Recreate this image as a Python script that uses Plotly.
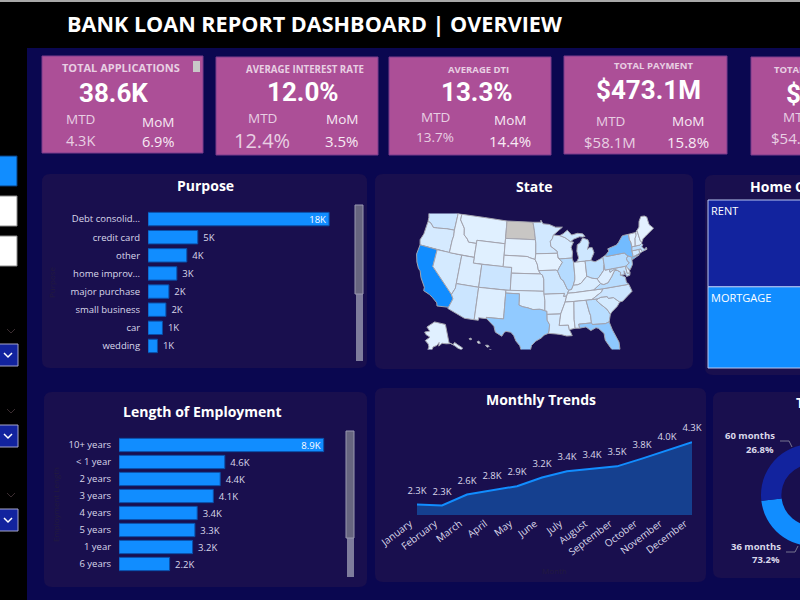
import plotly.graph_objects as go

# page is wider than the window on purpose: the reference is cropped at x=800
W = 1000
H = 600

purpose_names = ["Debt consolid...", "credit card", "other", "home improv...", "major purchase",
                 "small business", "car", "wedding"]
purpose_values = [18.2, 5.0, 3.9, 2.9, 2.1, 1.8, 1.45, 0.95]
purpose_labels = ["18K", "5K", "4K", "3K", "2K", "2K", "1K", "1K"]

emp_names = ["10+ years", "< 1 year", "2 years", "3 years", "4 years", "5 years", "1 year", "6 years"]
emp_values = [8.9, 4.6, 4.4, 4.1, 3.4, 3.3, 3.2, 2.2]

months = ["January", "February", "March", "April", "May", "June", "July", "August",
          "September", "October", "November", "December"]
month_values = [2.29, 2.26, 2.61, 2.75, 2.88, 3.16, 3.36, 3.44, 3.52, 3.77, 4.03, 4.3]

term_names = ["36 months", "60 months"]
term_share = [73.2, 26.8]

home_names = ["RENT", "MORTGAGE", "OWN"]
home_values = [18.4, 17.2, 2.8]

# shading of the map read as a rough count per state (ND has no data in the picture)
state_codes = ["CA", "NY", "FL", "TX", "NJ", "IL", "PA", "VA", "GA", "MA", "OH", "MD", "AZ", "WA", "CO", "NC",
               "CT", "MI", "MO", "MN", "NV", "SC", "WI", "AL", "OR", "LA", "KY", "OK", "KS", "UT", "AR", "RI",
               "NM", "WV", "HI", "NH", "DE", "MT", "WY", "AK", "SD", "VT", "MS", "TN", "IN", "ID", "IA", "NE", "ME"]
state_counts = [6900, 3700, 2800, 2700, 1800, 1500, 1500, 1400, 1400, 1300, 1200, 1000, 800, 800, 800, 800,
                700, 700, 700, 600, 500, 500, 450, 450, 450, 450, 300, 300, 250, 250, 250, 200,
                200, 200, 200, 150, 100, 100, 100, 100, 50, 50, 20, 20, 10, 10, 10, 10, 10]

# the plotly basemap comes from a CDN, so simplified state outlines (lon, lat) are kept here
state_shapes = {
    "WA": [[(-124.7,48.4),(-123.0,48.3),(-122.8,49.0),(-117.03,49.0),(-117.04,46.0),(-119.0,45.93),(-121.2,45.65),(-122.3,45.55),(-122.8,45.9),(-123.4,46.25),(-124.0,46.27),(-124.1,47.0)]],
    "OR": [[(-124.0,46.27),(-123.4,46.25),(-122.8,45.9),(-122.3,45.55),(-121.2,45.65),(-119.0,45.93),(-117.04,46.0),(-116.9,45.0),(-117.03,44.2),(-117.03,42.0),(-124.2,42.0),(-124.55,42.85),(-124.1,44.0)]],
    "CA": [[(-124.2,42.0),(-120.0,42.0),(-120.0,39.0),(-114.63,35.0),(-114.13,34.3),(-114.72,32.72),(-117.12,32.53),(-117.3,33.05),(-118.4,33.75),(-119.2,34.15),(-120.6,34.55),(-120.65,35.15),(-121.9,36.6),(-122.5,37.7),(-123.0,38.0),(-123.75,39.0),(-124.35,40.3)]],
    "NV": [[(-120.0,42.0),(-114.04,42.0),(-114.05,36.2),(-114.63,35.0),(-120.0,39.0)]],
    "ID": [[(-117.03,49.0),(-116.05,49.0),(-116.05,48.0),(-114.7,46.7),(-114.4,45.55),(-113.45,44.95),(-113.0,44.45),(-111.05,44.48),(-111.05,42.0),(-117.03,42.0),(-117.03,44.2),(-116.9,45.0),(-117.04,46.0)]],
    "MT": [[(-116.05,49.0),(-104.05,49.0),(-104.05,45.0),(-111.05,45.0),(-111.05,44.48),(-113.0,44.45),(-113.45,44.95),(-114.4,45.55),(-114.7,46.7),(-116.05,48.0)]],
    "WY": [[(-111.05,45.0),(-104.05,45.0),(-104.05,41.0),(-111.05,41.0)]],
    "UT": [[(-114.04,42.0),(-111.05,42.0),(-111.05,41.0),(-109.05,41.0),(-109.05,37.0),(-114.05,37.0)]],
    "CO": [[(-109.05,41.0),(-102.05,41.0),(-102.05,37.0),(-109.05,37.0)]],
    "AZ": [[(-114.05,37.0),(-109.05,37.0),(-109.05,31.33),(-111.07,31.33),(-114.81,32.5),(-114.72,32.72),(-114.13,34.3),(-114.63,35.0),(-114.05,36.2)]],
    "NM": [[(-109.05,37.0),(-103.0,37.0),(-103.05,32.0),(-106.62,32.0),(-106.53,31.78),(-108.2,31.78),(-108.2,31.33),(-109.05,31.33)]],
    "ND": [[(-104.05,49.0),(-97.23,49.0),(-96.85,47.6),(-96.56,45.94),(-104.05,45.94)]],
    "SD": [[(-104.05,45.94),(-96.56,45.94),(-96.45,45.3),(-96.45,43.5),(-96.6,42.5),(-97.9,42.8),(-98.5,43.0),(-104.05,43.0)]],
    "NE": [[(-104.05,43.0),(-98.5,43.0),(-97.9,42.8),(-96.6,42.5),(-96.1,41.7),(-95.85,40.7),(-95.31,40.0),(-102.05,40.0),(-102.05,41.0),(-104.05,41.0)]],
    "KS": [[(-102.05,40.0),(-95.31,40.0),(-94.9,39.8),(-94.61,39.1),(-94.62,37.0),(-102.05,37.0)]],
    "OK": [[(-103.0,37.0),(-94.62,37.0),(-94.43,35.4),(-94.48,33.64),(-95.5,33.9),(-97.0,33.85),(-98.1,34.13),(-99.2,34.3),(-100.0,34.56),(-100.0,36.5),(-103.0,36.5)]],
    "TX": [[(-103.0,36.5),(-100.0,36.5),(-100.0,34.56),(-99.2,34.3),(-98.1,34.13),(-97.0,33.85),(-95.5,33.9),(-94.48,33.64),(-94.04,33.55),(-94.04,32.0),(-93.55,31.2),(-93.7,30.1),(-93.85,29.7),(-94.7,29.4),(-95.3,28.9),(-96.4,28.35),(-97.2,27.6),(-97.4,26.8),(-97.15,25.96),(-98.2,26.05),(-99.1,26.4),(-99.5,27.5),(-100.3,28.3),(-100.8,29.25),(-101.4,29.77),(-102.35,29.88),(-102.7,29.7),(-103.15,28.98),(-104.5,29.6),(-104.9,30.6),(-106.53,31.78),(-106.62,32.0),(-103.05,32.0)]],
    "MN": [[(-97.23,49.0),(-95.15,49.0),(-95.15,49.38),(-94.6,48.72),(-93.0,48.6),(-91.4,48.07),(-89.6,48.0),(-92.0,46.7),(-92.3,46.1),(-92.85,45.6),(-92.75,44.75),(-91.25,43.85),(-91.22,43.5),(-96.45,43.5),(-96.45,45.3),(-96.56,45.94),(-96.85,47.6)]],
    "IA": [[(-96.45,43.5),(-91.22,43.5),(-91.1,42.7),(-90.15,41.9),(-90.95,41.0),(-91.4,40.4),(-91.73,40.6),(-95.77,40.58),(-95.85,40.7),(-96.1,41.7),(-96.6,42.5)]],
    "MO": [[(-95.77,40.58),(-91.73,40.6),(-91.4,40.4),(-90.7,39.0),(-90.2,38.7),(-89.5,37.3),(-89.15,36.98),(-89.7,36.0),(-90.37,36.0),(-90.15,36.5),(-94.62,36.5),(-94.62,37.0),(-94.61,39.1),(-94.9,39.8),(-95.31,40.0)]],
    "AR": [[(-94.62,36.5),(-90.15,36.5),(-90.37,36.0),(-89.7,36.0),(-90.1,35.0),(-91.17,33.0),(-94.04,33.0),(-94.04,33.55),(-94.48,33.64),(-94.43,35.4)]],
    "LA": [[(-94.04,33.0),(-91.17,33.0),(-91.6,31.0),(-89.73,31.0),(-89.6,30.18),(-89.4,29.8),(-89.1,29.1),(-90.2,29.1),(-91.3,29.4),(-92.3,29.55),(-93.85,29.7),(-93.7,30.1),(-93.55,31.2),(-94.04,32.0)]],
    "WI": [[(-92.0,46.7),(-90.4,46.55),(-89.1,46.13),(-87.8,45.35),(-87.1,45.25),(-87.8,44.4),(-87.55,43.5),(-87.8,42.5),(-90.65,42.5),(-91.1,42.7),(-91.22,43.5),(-91.25,43.85),(-92.75,44.75),(-92.85,45.6),(-92.3,46.1)]],
    "IL": [[(-90.65,42.5),(-87.8,42.5),(-87.53,41.7),(-87.53,39.3),(-87.6,38.7),(-88.05,37.8),(-88.5,37.1),(-89.15,36.98),(-89.5,37.3),(-90.2,38.7),(-90.7,39.0),(-91.4,40.4),(-90.95,41.0),(-90.15,41.9),(-91.1,42.7)]],
    "IN": [[(-87.53,41.7),(-86.8,41.76),(-84.8,41.76),(-84.82,39.1),(-85.4,38.7),(-86.3,38.0),(-87.1,37.8),(-88.05,37.8),(-87.6,38.7),(-87.53,39.3)]],
    "MI": [[(-86.8,41.76),(-86.25,42.4),(-86.5,43.6),(-86.25,44.7),(-85.5,45.0),(-84.75,45.78),(-83.5,45.35),(-83.3,44.8),(-83.9,43.7),(-83.4,43.95),(-82.7,43.9),(-82.45,43.0),(-83.1,42.2),(-83.45,41.73),(-84.8,41.76)],
           [(-90.4,46.55),(-89.5,46.85),(-88.4,47.4),(-87.4,46.5),(-85.9,46.7),(-84.6,46.5),(-84.1,46.0),(-84.75,45.95),(-85.5,46.05),(-87.0,45.75),(-87.8,45.35),(-89.1,46.13)]],
    "OH": [[(-84.8,41.76),(-83.45,41.73),(-82.5,41.4),(-81.2,41.75),(-80.52,42.0),(-80.52,40.64),(-80.85,39.7),(-81.7,39.0),(-82.2,38.6),(-82.6,38.45),(-83.7,38.65),(-84.82,39.1)]],
    "KY": [[(-84.82,39.1),(-83.7,38.65),(-82.6,38.45),(-81.97,37.54),(-83.68,36.6),(-88.07,36.5),(-89.42,36.5),(-89.15,36.98),(-88.5,37.1),(-88.05,37.8),(-87.1,37.8),(-86.3,38.0),(-85.4,38.7)]],
    "TN": [[(-89.42,36.5),(-88.07,36.5),(-83.68,36.6),(-81.68,36.59),(-82.0,36.1),(-84.32,35.0),(-85.6,35.0),(-88.2,35.0),(-90.1,35.0),(-89.7,36.0)]],
    "MS": [[(-91.17,33.0),(-90.1,35.0),(-88.2,35.0),(-88.47,31.9),(-88.4,30.35),(-89.6,30.18),(-89.73,31.0),(-91.6,31.0)]],
    "AL": [[(-88.2,35.0),(-85.6,35.0),(-85.18,32.87),(-85.0,32.3),(-85.0,31.0),(-87.6,31.0),(-87.5,30.3),(-88.4,30.35),(-88.47,31.9)]],
    "GA": [[(-85.6,35.0),(-84.32,35.0),(-83.1,35.0),(-83.35,34.7),(-82.6,34.0),(-81.45,33.0),(-80.9,32.05),(-81.4,30.75),(-82.05,30.6),(-82.2,30.55),(-84.86,30.7),(-85.0,31.0),(-85.0,32.3),(-85.18,32.87)]],
    "FL": [[(-87.6,31.0),(-85.0,31.0),(-84.86,30.7),(-82.2,30.55),(-82.05,30.6),(-81.4,30.75),(-81.0,29.3),(-80.1,27.0),(-80.15,25.8),(-80.5,25.2),(-81.15,25.2),(-81.8,26.1),(-82.7,27.7),(-82.75,28.9),(-83.7,29.9),(-84.2,30.08),(-85.3,29.68),(-86.2,30.4),(-87.5,30.3)]],
    "SC": [[(-83.35,34.7),(-83.1,35.0),(-82.3,35.2),(-81.0,35.15),(-80.8,34.82),(-79.7,34.8),(-78.55,33.85),(-79.2,33.2),(-80.5,32.4),(-80.9,32.05),(-81.45,33.0),(-82.6,34.0)]],
    "NC": [[(-84.32,35.0),(-82.0,36.1),(-81.68,36.59),(-75.87,36.55),(-75.5,35.25),(-76.5,34.7),(-77.9,33.9),(-78.55,33.85),(-79.7,34.8),(-80.8,34.82),(-81.0,35.15),(-82.3,35.2),(-83.1,35.0)]],
    "VA": [[(-83.68,36.6),(-81.97,37.54),(-81.3,37.3),(-80.3,37.5),(-79.3,38.4),(-78.35,39.4),(-77.75,39.3),(-77.1,38.85),(-77.3,38.4),(-76.3,37.9),(-76.3,37.0),(-75.87,36.55),(-81.68,36.59)]],
    "WV": [[(-82.6,38.45),(-82.2,38.6),(-81.7,39.0),(-80.85,39.7),(-80.52,40.64),(-80.52,39.72),(-79.48,39.72),(-79.48,39.2),(-78.35,39.6),(-77.75,39.3),(-78.35,39.4),(-79.3,38.4),(-80.3,37.5),(-81.3,37.3),(-81.97,37.54)]],
    "MD": [[(-79.48,39.72),(-75.79,39.72),(-75.7,38.46),(-75.05,38.45),(-75.25,38.03),(-76.0,37.95),(-76.3,39.0),(-76.4,38.3),(-77.3,38.4),(-77.1,38.85),(-77.75,39.3),(-78.35,39.6),(-79.48,39.2)]],
    "DE": [[(-75.79,39.72),(-75.45,39.82),(-75.1,38.8),(-75.05,38.45),(-75.7,38.46)]],
    "PA": [[(-80.52,42.0),(-79.76,42.27),(-79.76,42.0),(-75.35,42.0),(-74.7,41.36),(-75.13,40.98),(-75.1,40.6),(-74.72,40.15),(-75.45,39.82),(-75.79,39.72),(-80.52,39.72)]],
    "NY": [[(-79.76,42.27),(-78.9,42.85),(-79.05,43.27),(-76.8,43.63),(-76.2,44.0),(-75.0,44.95),(-74.7,45.0),(-73.35,45.0),(-73.45,44.0),(-73.25,43.6),(-73.28,42.74),(-73.5,42.05),(-73.5,41.2),(-73.7,41.0),(-72.0,41.1),(-73.9,40.55),(-74.0,40.75),(-73.9,41.0),(-74.7,41.36),(-75.35,42.0),(-79.76,42.0)]],
    "NJ": [[(-74.7,41.36),(-73.9,41.0),(-74.0,40.45),(-74.1,39.75),(-74.9,38.93),(-75.55,39.5),(-75.45,39.82),(-74.72,40.15),(-75.1,40.6),(-75.13,40.98)]],
    "CT": [[(-73.5,42.05),(-71.8,42.02),(-71.85,41.32),(-73.7,41.0),(-73.5,41.2)]],
    "RI": [[(-71.8,42.02),(-71.38,42.02),(-71.15,41.5),(-71.85,41.32)]],
    "MA": [[(-73.5,42.05),(-73.28,42.74),(-71.3,42.7),(-70.85,42.88),(-70.6,42.65),(-71.0,42.3),(-70.5,41.8),(-70.0,42.05),(-69.95,41.67),(-71.15,41.5),(-71.38,42.02),(-71.8,42.02)]],
    "VT": [[(-73.35,45.0),(-71.5,45.0),(-71.6,44.5),(-72.05,44.0),(-72.46,42.73),(-73.28,42.74),(-73.25,43.6),(-73.45,44.0)]],
    "NH": [[(-71.5,45.0),(-71.08,45.3),(-70.98,43.4),(-70.7,43.07),(-70.85,42.88),(-71.3,42.7),(-72.46,42.73),(-72.05,44.0),(-71.6,44.5)]],
    "ME": [[(-71.08,45.3),(-70.4,45.75),(-70.0,46.7),(-69.2,47.45),(-68.3,47.35),(-67.8,47.07),(-67.8,45.7),(-67.0,44.85),(-69.0,44.1),(-70.2,43.6),(-70.7,43.07),(-70.98,43.4)]],
    "AK": [[(-141.0,69.6),(-141.0,60.3),(-137.5,58.9),(-135.5,59.8),(-133.5,58.4),(-130.0,55.9),(-131.6,55.2),(-134.0,56.5),(-136.0,58.0),(-139.5,59.7),(-144.0,60.0),(-148.0,60.5),(-151.5,59.2),(-151.0,61.0),(-153.5,59.5),(-157.0,58.8),(-158.5,56.3),(-163.0,54.8),(-161.0,58.6),(-162.0,60.0),(-165.5,61.5),(-161.0,63.5),(-166.0,64.5),(-168.0,65.6),(-162.0,66.5),(-166.5,68.3),(-156.5,71.3)]],
    "HI": [[(-155.9,20.25),(-155.05,19.85),(-154.8,19.5),(-155.65,18.95),(-156.05,19.7)],
           [(-156.7,20.95),(-156.25,20.95),(-156.0,20.75),(-156.4,20.6)],
           [(-158.25,21.55),(-157.95,21.7),(-157.65,21.3),(-158.1,21.3)],
           [(-159.75,22.1),(-159.4,22.2),(-159.3,21.95),(-159.6,21.9)]],
}

# colours
NAVY = "#0A0750"
PANEL = "#190F4E"
PURPLE = "#AC4F97"
BLUE = "#118DFF"
DARK_BLUE = "#12239E"
TICK = "#DAD8EA"
KPI_SOFT = "#E8CFE3"
FAINT = "#221A3E"
FONT = "Open Sans"
BIG_FONT = "Roboto"


def fx(px):
    return px / W


def fy(py):
    return 1 - py / H


def ring_clockwise(ring):
    # d3-geo wants the outer ring clockwise, otherwise the polygon fills the globe
    area = 0
    for (x0, y0), (x1, y1) in zip(ring, ring[1:] + ring[:1]):
        area += (x1 - x0) * (y1 + y0)
    pts = ring if area > 0 else ring[::-1]
    return list(pts) + [pts[0]]


def state_color(count):
    # same ramp as the map legend: pale blue up to the full bar blue
    t = count / max(state_counts)
    low = (0xE3, 0xF1, 0xFF)
    high = (0x11, 0x8D, 0xFF)
    r, g, b = [round(a + (c - a) * t) for a, c in zip(low, high)]
    return f"rgb({r},{g},{b})"


def pad_outside(labels):
    # first label sits inside its bar, the rest get a small gap from the bar end
    return [labels[0]] + ["\u00a0" + t for t in labels[1:]]


shapes = []
annotations = []


def rect(x0, y0, x1, y1, fill, line=None, width=1):
    shapes.append(dict(type="rect", xref="paper", yref="paper", x0=fx(x0), x1=fx(x1), y0=fy(y0), y1=fy(y1),
                       fillcolor=fill, line=dict(color=line or fill, width=width if line else 0), layer="below"))


def card(x0, y0, x1, y1, r=8):
    path = (f"M {fx(x0 + r)} {fy(y0)} L {fx(x1 - r)} {fy(y0)} Q {fx(x1)} {fy(y0)} {fx(x1)} {fy(y0 + r)} "
            f"L {fx(x1)} {fy(y1 - r)} Q {fx(x1)} {fy(y1)} {fx(x1 - r)} {fy(y1)} "
            f"L {fx(x0 + r)} {fy(y1)} Q {fx(x0)} {fy(y1)} {fx(x0)} {fy(y1 - r)} "
            f"L {fx(x0)} {fy(y0 + r)} Q {fx(x0)} {fy(y0)} {fx(x0 + r)} {fy(y0)} Z")
    shapes.append(dict(type="path", xref="paper", yref="paper", path=path, fillcolor=PANEL,
                       line=dict(width=0), layer="below"))


def polyline(points, color, width=1.5):
    path = "M " + " L ".join(f"{fx(x)} {fy(y)}" for x, y in points)
    shapes.append(dict(type="path", xref="paper", yref="paper", path=path, line=dict(color=color, width=width),
                       layer="above"))


def label(x, y, text, size, color="white", bold=False, family=FONT, angle=0, anchor="center"):
    annotations.append(dict(xref="paper", yref="paper", x=fx(x), y=fy(y), text=f"<b>{text}</b>" if bold else text,
                            showarrow=False, xanchor=anchor, yanchor="middle", textangle=angle,
                            font=dict(family=family, size=size, color=color)))


# page blocks
rect(0, 0, W, H, "black")
rect(0, 0, W, 2, "#A8A8A8")
rect(27, 48, W, H, NAVY)
label(65, 23, "BANK LOAN REPORT DASHBOARD | OVERVIEW", 21.6, bold=True, anchor="left")

# left slicers
rect(-2, 156, 17, 186, BLUE, "#0B3C78", 1)
rect(-2, 196, 17, 226, "white", "#8A8A8A", 1)
rect(-2, 236, 17, 266, "white", "#8A8A8A", 1)
for top, faint_y in [(344, 331), (425, 411), (509, 495)]:
    rect(-2, top, 18, top + 22, DARK_BLUE, "#A5A5C8", 1)
    polyline([(4, top + 9), (8, top + 13), (12, top + 9)], "white")
    polyline([(7, faint_y - 2), (11, faint_y + 2), (15, faint_y - 2)], "#3A2C30", 1)

# KPI cards
kpis = [
    dict(box=(42, 56, 203, 153), title=("TOTAL APPLICATIONS", 121, 68, 11), value=("38.6K", 113, 93, 26),
         mtd=(80, 119, 140, "4.3K", 14.5), mom=(158, 122, 141, "6.9%", 14.5)),
    dict(box=(216, 57, 378, 155), title=("AVERAGE INTEREST RATE", 305, 69, 9.7), value=("12.0%", 303, 92, 26),
         mtd=(262, 118, 140, "12.4%", 20), mom=(342, 119, 141, "3.5%", 15)),
    dict(box=(389, 57, 551, 155), title=("AVERAGE DTI", 478, 69, 9.5), value=("13.3%", 477, 92, 26),
         mtd=(435, 117, 137, "13.7%", 13.5), mom=(510, 120, 141, "14.4%", 15)),
    dict(box=(564, 56, 727, 154), title=("TOTAL PAYMENT", 653, 66, 9.5), value=("$473.1M", 648, 90, 26),
         mtd=(610, 121, 142, "$58.1M", 15), mom=(688, 121, 142, "15.8%", 15)),
    dict(box=(751, 57, 915, 155), title=("TOTAL FUNDED AMOUNT", 833, 69, 9.5), value=("$435.8M", 838, 94, 26),
         mtd=(797, 117, 138, "$54.0M", 15), mom=(875, 121, 142, "13.0%", 15)),
]
for k in kpis:
    x0, y0, x1, y1 = k["box"]
    rect(x0, y0, x1, y1, PURPLE, "#7A3C8C", 1)
    text, tx, ty, ts = k["title"]
    label(tx, ty, text, ts, KPI_SOFT, bold=True)
    text, tx, ty, ts = k["value"]
    label(tx, ty, text, ts, "white", bold=True, family=BIG_FONT)
    mx, my0, my1, mval, ms = k["mtd"]
    label(mx, my0, "MTD", 13.5, KPI_SOFT)
    label(mx, my1, mval, ms, KPI_SOFT)
    mx, my0, my1, mval, ms = k["mom"]
    label(mx, my0, "MoM", 13.5, "#F7EAF4")
    label(mx, my1, mval, ms, "#F7EAF4")
rect(193, 61, 200, 72, "#C8C8C8")

# chart panels
card(42, 174, 367, 368)
card(375, 174, 693, 369)
card(705, 175, 895, 375)
card(44, 392, 367, 587)
card(375, 388, 706, 582)
card(713, 392, 900, 578)
label(205, 185, "Purpose", 14, bold=True)
label(534, 186, "State", 14, bold=True)
label(810, 186, "Home Ownership", 14, bold=True)
label(202, 411, "Length of Employment", 14, bold=True)
label(541, 399, "Monthly Trends", 14, bold=True)
label(814, 402, "Term", 14, bold=True)

# scrollbars next to the two bar lists
rect(356, 294, 363, 361, "#7E7C9C")
rect(355, 205, 363, 294, "#67657F", "#9A98B0", 1)
rect(347, 538, 354, 577, "#7E7C9C")
rect(346, 431, 354, 538, "#67657F", "#9A98B0", 1)

# barely visible axis titles from the original
label(51, 282, "Purpose", 8, FAINT, angle=-90)
label(55, 505, "Employment Length", 8, FAINT, angle=-90)
label(554, 570, "Month", 8, FAINT)

# term donut leader lines and labels
polyline([(780, 441), (789, 441), (792, 447)], "#77758F", 1)
polyline([(786, 552), (795, 552), (798, 546)], "#77758F", 1)
label(777, 435, "60 months", 9.5, TICK, bold=True, anchor="right")
label(776, 449, "26.8%", 9.5, TICK, bold=True, anchor="right")
label(783, 546, "36 months", 9.5, TICK, bold=True, anchor="right")
label(782, 559, "73.2%", 9.5, TICK, bold=True, anchor="right")

fig = go.Figure()

fig.add_trace(go.Bar(
    x=purpose_values, y=purpose_names, orientation="h", xaxis="x", yaxis="y",
    marker=dict(color=BLUE, line=dict(color="#0B4FA8", width=1)), width=0.74,
    text=pad_outside(purpose_labels), textposition=["inside"] + ["outside"] * 7, insidetextanchor="end",
    constraintext="none", cliponaxis=False, textangle=0,
    insidetextfont=dict(family=FONT, size=9.5, color="white"),
    outsidetextfont=dict(family=FONT, size=9.5, color=TICK), hoverinfo="skip",
))
fig.add_trace(go.Bar(
    x=emp_values, y=emp_names, orientation="h", xaxis="x2", yaxis="y2",
    marker=dict(color=BLUE, line=dict(color="#0B4FA8", width=1)), width=0.78,
    text=pad_outside([f"{v:.1f}K" for v in emp_values]), textposition=["inside"] + ["outside"] * 7,
    insidetextanchor="end", constraintext="none", cliponaxis=False, textangle=0,
    insidetextfont=dict(family=FONT, size=9.5, color="white"),
    outsidetextfont=dict(family=FONT, size=9.5, color=TICK), hoverinfo="skip",
))
fig.add_trace(go.Scatter(
    x=months, y=month_values, xaxis="x3", yaxis="y3", mode="lines+markers+text",
    line=dict(color=BLUE, width=2), fill="tozeroy", fillcolor="#15408F",
    marker=dict(size=12, opacity=0),  # invisible, only lifts the text off the line
    text=[f"{v:.1f}K" for v in month_values], textposition="top center", cliponaxis=False,
    textfont=dict(family=FONT, size=9.5, color=TICK), hoverinfo="skip",
))
fig.add_trace(go.Pie(
    labels=term_names, values=term_share, hole=0.6, sort=False, direction="clockwise", rotation=0,
    domain=dict(x=[fx(761), fx(863)], y=[fy(546), fy(444)]),
    marker=dict(colors=[BLUE, DARK_BLUE]), textinfo="none", showlegend=False, hoverinfo="skip",
))
fig.add_trace(go.Treemap(
    labels=home_names, parents=[""] * len(home_names), values=home_values,
    domain=dict(x=[fx(708), fx(885)], y=[fy(368), fy(200)]),
    marker=dict(colors=[DARK_BLUE, BLUE, "#E66C37"], line=dict(color="#B9C6F0", width=1), pad=dict(t=0, l=0, r=0, b=0)),
    tiling=dict(pad=0, squarifyratio=1.618), pathbar=dict(visible=False), textinfo="label", textposition="top left",
    textfont=dict(family=FONT, size=11, color="white"), hoverinfo="skip",
))

# one filled scattergeo per state, choropleth traces always ask the CDN for the basemap
count_by_state = dict(zip(state_codes, state_counts))
for code, polys in state_shapes.items():
    lons, lats = [], []
    for ring in polys:
        closed = ring_clockwise(ring)
        lons += [p[0] for p in closed] + [None]
        lats += [p[1] for p in closed] + [None]
    fill = state_color(count_by_state[code]) if code in count_by_state else "#C8C6C4"
    fig.add_trace(go.Scattergeo(lon=lons, lat=lats, mode="lines", fill="toself", fillcolor=fill,
                                line=dict(color="#A4A4AE", width=1), geo="geo", hoverinfo="skip", name=code))

hidden = dict(visible=False, fixedrange=True)
bar_y = dict(type="category", autorange="reversed", showgrid=False, zeroline=False, showline=False,
             ticks="outside", ticklen=5, tickcolor="rgba(0,0,0,0)", tickfont=dict(family=FONT, size=9.5, color=TICK))

fig.update_layout(
    width=W, height=H, margin=dict(l=0, r=0, t=0, b=0, autoexpand=False), autosize=False,
    paper_bgcolor="black", plot_bgcolor="rgba(0,0,0,0)", showlegend=False, bargap=0.26,
    shapes=shapes, annotations=annotations, hovermode=False,
    xaxis=dict(hidden, domain=[fx(148), fx(347)], range=[0, 20], anchor="y"),
    yaxis=dict(bar_y, domain=[fy(355), fy(210)], anchor="x"),
    xaxis2=dict(hidden, domain=[fx(119), fx(349)], range=[0, 10], anchor="y2"),
    yaxis2=dict(bar_y, domain=[fy(572.5), fy(436.5)], anchor="x2"),
    xaxis3=dict(type="category", domain=[fx(417), fx(692)], range=[0, 11], anchor="y3", showgrid=False,
                zeroline=False, showline=False, ticks="", tickangle=-37, ticklabelshift=-7,
                tickfont=dict(family=FONT, size=10, color=TICK)),
    yaxis3=dict(hidden, domain=[fy(515), fy(436)], range=[1.95, 4.5], anchor="x3"),
    geo=dict(scope="usa", domain=dict(x=[fx(405), fx(665)], y=[fy(358), fy(205)]), bgcolor="rgba(0,0,0,0)",
             projection=dict(scale=1.15),
             showland=False, showlakes=False, showcoastlines=False, showsubunits=False, showframe=False,
             showcountries=False, showocean=False, showrivers=False),
)

fig.write_html("out.html", config={"displayModeBar": False},
               post_script="document.body.style.margin='0';document.body.style.overflow='hidden';")
